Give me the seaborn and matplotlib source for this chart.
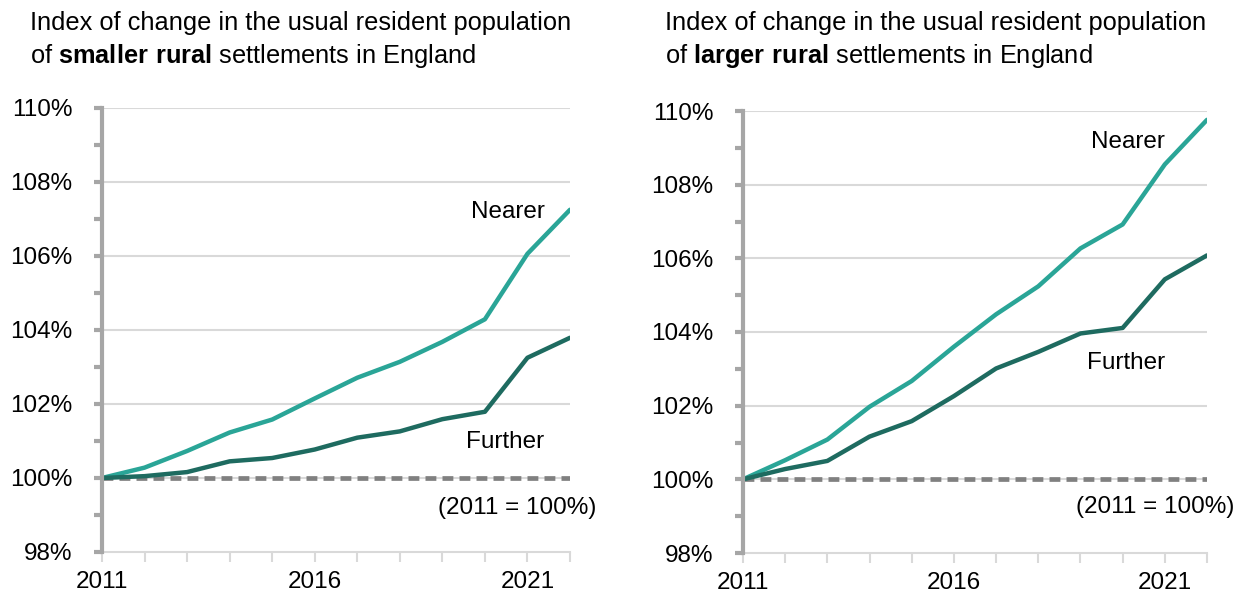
import matplotlib
matplotlib.use("Agg")
import matplotlib.pyplot as plt
import seaborn as sns
import pandas as pd
import numpy as np

years = list(range(2011, 2023))
smaller_nearer = [100, 100.28, 100.73, 101.23, 101.58, 102.15, 102.71, 103.14, 103.68, 104.29, 106.06, 107.25]
smaller_further = [100, 100.05, 100.16, 100.45, 100.54, 100.77, 101.09, 101.26, 101.59, 101.79, 103.25, 103.79]
larger_nearer = [100, 100.52, 101.08, 101.97, 102.67, 103.60, 104.48, 105.24, 106.27, 106.92, 108.55, 109.76]
larger_further = [100, 100.28, 100.50, 101.16, 101.58, 102.26, 103.01, 103.46, 103.96, 104.11, 105.43, 106.08]
baseline = [100] * len(years)
ytick_vals = [98, 100, 102, 104, 106, 108, 110]
xtick_labels = ["2011", "2016", "2021"]

sns.set_theme(style="white")
plt.rcParams['font.family'] = ['Liberation Sans', 'DejaVu Sans']
plt.rcParams['mathtext.fontset'] = 'custom'
plt.rcParams['mathtext.rm'] = 'Liberation Sans'
plt.rcParams['mathtext.bf'] = 'Liberation Sans:bold'
plt.rcParams['text.color'] = 'black'

NEAR = "#2aa597"
FAR = "#1e6b60"
GREY = "#a6a6a6"
FS = 17.5

fig = plt.figure(figsize=(12.39, 5.99), dpi=100)
ax1 = fig.add_axes([102/1239, 1-552/599, 468/1239, 444/599])
ax2 = fig.add_axes([743/1239, 1-553/599, 464/1239, 442/599])

panels = [
    (ax1, smaller_nearer, smaller_further, "smaller\\ rural",
     (2021.4, 107.19), (2021.4, 100.98), (2022.63, 99.19), 30),
    (ax2, larger_nearer, larger_further, "larger\\ rural",
     (2021.0, 109.15), (2021.0, 103.15), (2022.66, 99.24), 665),
]

for ax, near, far, bold, pn, pf, pb, tx in panels:
    df = pd.DataFrame({"year": years * 2, "value": near + far,
                       "series": ["Nearer"] * len(years) + ["Further"] * len(years)})
    ax.set_facecolor("white")
    for y in ytick_vals[1:]:
        ax.axhline(y, color="#d9d9d9", lw=1.5, zorder=0)
    sns.lineplot(x=years, y=baseline, ax=ax, color="#808080", lw=3.4,
                 linestyle=(0, (2.3, 1.3)), zorder=2)
    sns.lineplot(data=df, x="year", y="value", hue="series",
                 palette={"Nearer": NEAR, "Further": FAR}, lw=3.2,
                 ax=ax, legend=False, zorder=3)
    ax.set_xlim(2011, 2022)
    ax.set_ylim(98, 110)
    ax.set_xticks(years)
    ax.set_xticklabels([str(y) if str(y) in xtick_labels else "" for y in years])
    ax.set_yticks(ytick_vals)
    ax.set_yticklabels([f"{v}%" for v in ytick_vals])
    ax.set_yticks(list(range(99, 110, 2)), minor=True)
    ax.set_xlabel("")
    ax.set_ylabel("")
    for s in ["top", "right"]:
        ax.spines[s].set_visible(False)
    ax.spines["left"].set_color(GREY)
    ax.spines["left"].set_linewidth(3)
    ax.spines["left"].set_zorder(4)
    ax.spines["bottom"].set_color("#d9d9d9")
    ax.spines["bottom"].set_linewidth(1.5)
    ax.tick_params(axis="y", which="both", left=True, length=5.5, width=3,
                   color=GREY, labelsize=FS, labelcolor="black", pad=16)
    ax.tick_params(axis="x", bottom=True, length=7, width=1.5, color="#d9d9d9",
                   labelsize=FS, labelcolor="black", pad=7)
    ax.text(pn[0], pn[1], "Nearer", ha="right", va="center", fontsize=FS)
    ax.text(pf[0], pf[1], "Further", ha="right", va="center", fontsize=FS)
    ax.text(pb[0], pb[1], "(2011 = 100%)", ha="right", va="center", fontsize=FS,
            clip_on=False)
    fig.text(tx/1239, 1-23/599, "Index of change in the usual resident population",
             ha="left", va="center", fontsize=18.3)
    fig.text(tx/1239, 1-56/599, "of $\\bf{" + bold + "}$ settlements in England",
             ha="left", va="center", fontsize=18.3)

fig.savefig("out.png", dpi=100, facecolor="white")
